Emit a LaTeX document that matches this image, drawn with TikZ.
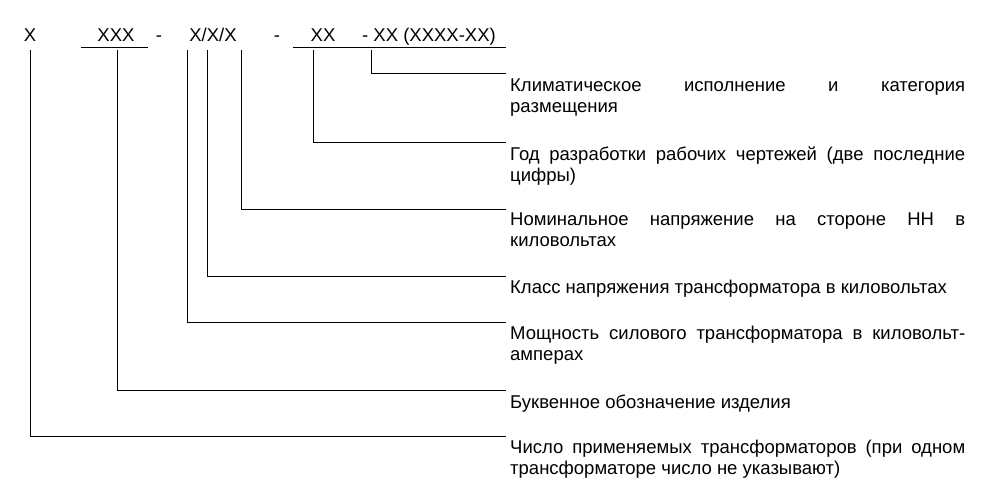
\documentclass[tikz,border=0pt]{standalone}
\usepackage{fontspec}
\setmainfont{Liberation Sans}
\begin{document}
\begin{tikzpicture}[x=1pt,y=-1pt,
  lbl/.style={anchor=north west,inner sep=0pt,text width=455pt,align=justify,font=\fontsize{18.5}{21}\selectfont},
  top/.style={inner sep=0pt,anchor=base,font=\fontsize{18.5}{19}\selectfont},
  ln/.style={line width=0.8pt}]
\useasboundingbox (0,0) rectangle (1000,500);
\node[top] (t1) at (30,42) {X};
\node[top] (t2) at (116,42) {XXX};
\node[top] (d1) at (159,42) {-};
\node[top] (t3) at (213,42) {X/X/X};
\node[top] (d2) at (277,42) {-};
\node[top] (t4) at (323,42) {XX};
\node[top,anchor=base west] (t5) at (362,42) {- XX (XXXX-XX)};
\draw[ln] (81,47) -- (148,47);
\draw[ln] (293,47) -- (506,47);
\coordinate (r1) at (506,73);
\coordinate (r2) at (506,142);
\coordinate (r3) at (506,209);
\coordinate (r4) at (506,276);
\coordinate (r5) at (506,322);
\coordinate (r6) at (506,390);
\coordinate (r7) at (506,436);
\draw[ln] (371,50) |- (r1);
\draw[ln] (313,50) |- (r2);
\draw[ln] (241,50) |- (r3);
\draw[ln] (207,50) |- (r4);
\draw[ln] (187,50) |- (r5);
\draw[ln] (117,50) |- (r6);
\draw[ln] (30,50) |- (r7);
\node[lbl] (l1) at (510,79) {Климатическое исполнение и категория\linebreak размещения};
\node[lbl] (l2) at (510,147) {Год разработки рабочих чертежей (две последние\linebreak цифры)};
\node[lbl] (l3) at (510,213) {Номинальное напряжение на стороне НН в\linebreak киловольтах};
\node[lbl] (l4) at (510,280) {Класс напряжения трансформатора в киловольтах};
\node[lbl] (l5) at (510,326) {Мощность силового трансформатора в киловольт-\linebreak амперах};
\node[lbl] (l6) at (510,395) {Буквенное обозначение изделия};
\node[lbl] (l7) at (510,440) {Число применяемых трансформаторов (при одном\linebreak трансформаторе число не указывают)};
\end{tikzpicture}
\end{document}
